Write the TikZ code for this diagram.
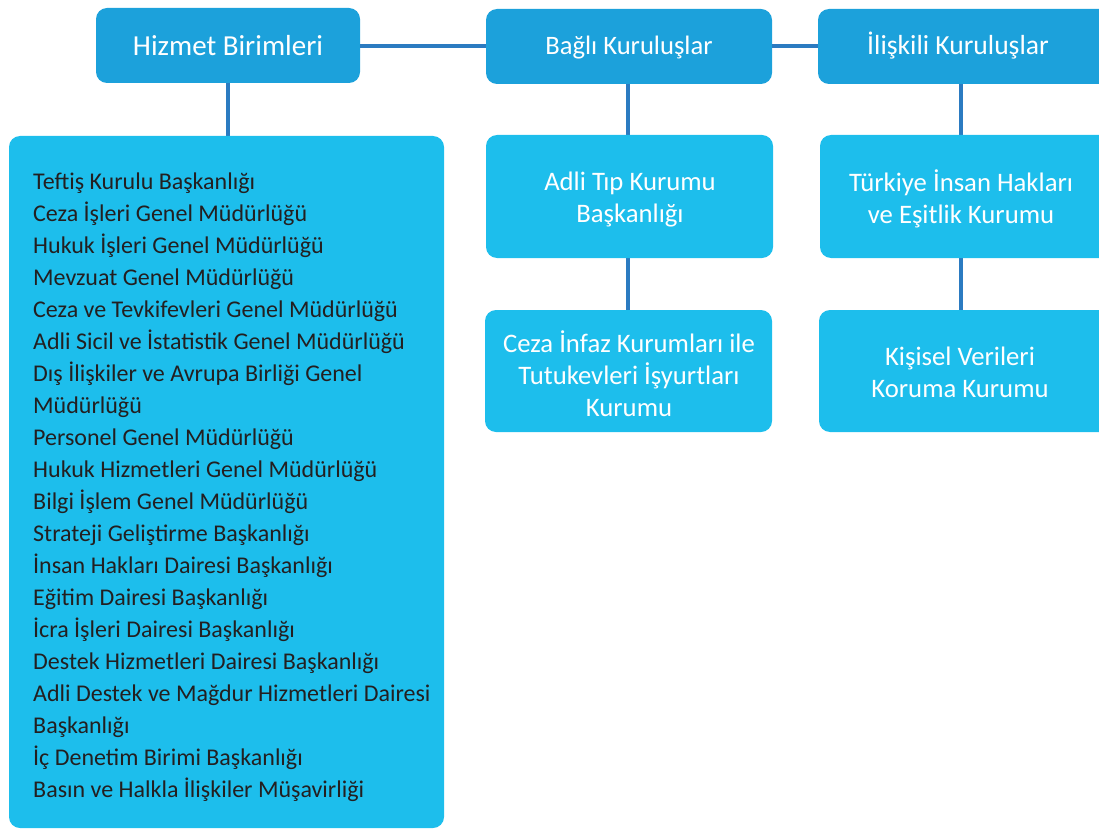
\documentclass[tikz,border=0pt]{standalone}
\usepackage{fontspec}
\setmainfont{Carlito}
\definecolor{topblue}{HTML}{1CA1DB}
\definecolor{boxblue}{HTML}{1DBEEC}
\definecolor{linkblue}{HTML}{2B7BC1}
\definecolor{txtdark}{HTML}{231F20}
\begin{document}
\begin{tikzpicture}[x=1pt,y=-1pt,
  headbox/.style={fill=topblue,rounded corners=11pt,text=white,font=\fontsize{27}{30}\selectfont},
  subbox/.style={fill=boxblue,rounded corners=11pt,text=white,align=center,font=\fontsize{26.7}{32}\selectfont},
  link/.style={draw=linkblue,line width=3.5pt}]
\useasboundingbox (0,0) rectangle (1099,829);
% boxes
\path[headbox] (96,8) rectangle (360,83);
\node[headbox,fill=none,font=\fontsize{29}{30}\selectfont] (hb) at (228,46) {Hizmet Birimleri};
\path[headbox] (486,9) rectangle (772,84);
\node[headbox,fill=none,font=\fontsize{26.6}{30}\selectfont] (bk) at (629,48) {Bağlı Kuruluşlar};
\path[headbox] (818,9) rectangle (1110,84);
\node[headbox,fill=none,font=\fontsize{27.6}{30}\selectfont] (ik) at (958,46) {İlişkili Kuruluşlar};
% named coordinates
\coordinate (hbR) at (360,46); \coordinate (bkL) at (486,46);
\coordinate (bkR) at (772,46); \coordinate (ikL) at (818,46);
\coordinate (hbB) at (228,83); \coordinate (listT) at (228,137);
\coordinate (bkB) at (628,84); \coordinate (atT) at (628,136);
\coordinate (atB) at (628,257); \coordinate (ciT) at (628,311);
\coordinate (ikB) at (961,84); \coordinate (tiT) at (961,136);
\coordinate (tiB) at (961,257); \coordinate (kvT) at (961,311);
\draw[link] (hbR) -- (bkL);
\draw[link] (bkR) -- (ikL);
\draw[link] (hbB) -- (listT);
\draw[link] (bkB) -- (atT);
\draw[link] (atB) -- (ciT);
\draw[link] (ikB) -- (tiT);
\draw[link] (tiB) -- (kvT);
% lower boxes
\path[subbox] (9,136) rectangle (444,828);
\path[subbox] (486,135) rectangle (773,258);
\node[subbox,fill=none] (at) at (630,200) {Adli Tıp Kurumu\\Başkanlığı};
\path[subbox] (485,310) rectangle (772,432);
\node[subbox,fill=none] (ci) at (629,374) {Ceza İnfaz Kurumları ile\\Tutukevleri İşyurtları\\Kurumu};
\path[subbox] (820,135) rectangle (1110,258);
\node[subbox,fill=none] (ti) at (961,198.5) {Türkiye İnsan Hakları\\ve Eşitlik Kurumu};
\path[subbox] (819,310) rectangle (1110,432);
\node[subbox,fill=none] (kv) at (960,372.5) {Kişisel Verileri\\Koruma Kurumu};
% list
\node[anchor=north west,text=txtdark,align=left,inner sep=0pt,
  font=\fontsize{24}{32}\selectfont] (list) at (33,173) {%
Teftiş Kurulu Başkanlığı\\
Ceza İşleri Genel Müdürlüğü\\
Hukuk İşleri Genel Müdürlüğü\\
Mevzuat Genel Müdürlüğü\\
Ceza ve Tevkifevleri Genel Müdürlüğü\\
Adli Sicil ve İstatistik Genel Müdürlüğü\\
Dış İlişkiler ve Avrupa Birliği Genel\\
Müdürlüğü\\
Personel Genel Müdürlüğü\\
Hukuk Hizmetleri Genel Müdürlüğü\\
Bilgi İşlem Genel Müdürlüğü\\
Strateji Geliştirme Başkanlığı\\
İnsan Hakları Dairesi Başkanlığı\\
Eğitim Dairesi Başkanlığı\\
İcra İşleri Dairesi Başkanlığı\\
Destek Hizmetleri Dairesi Başkanlığı\\
Adli Destek ve Mağdur Hizmetleri Dairesi\\
Başkanlığı\\
İç Denetim Birimi Başkanlığı\\
Basın ve Halkla İlişkiler Müşavirliği};
\end{tikzpicture}
\end{document}
